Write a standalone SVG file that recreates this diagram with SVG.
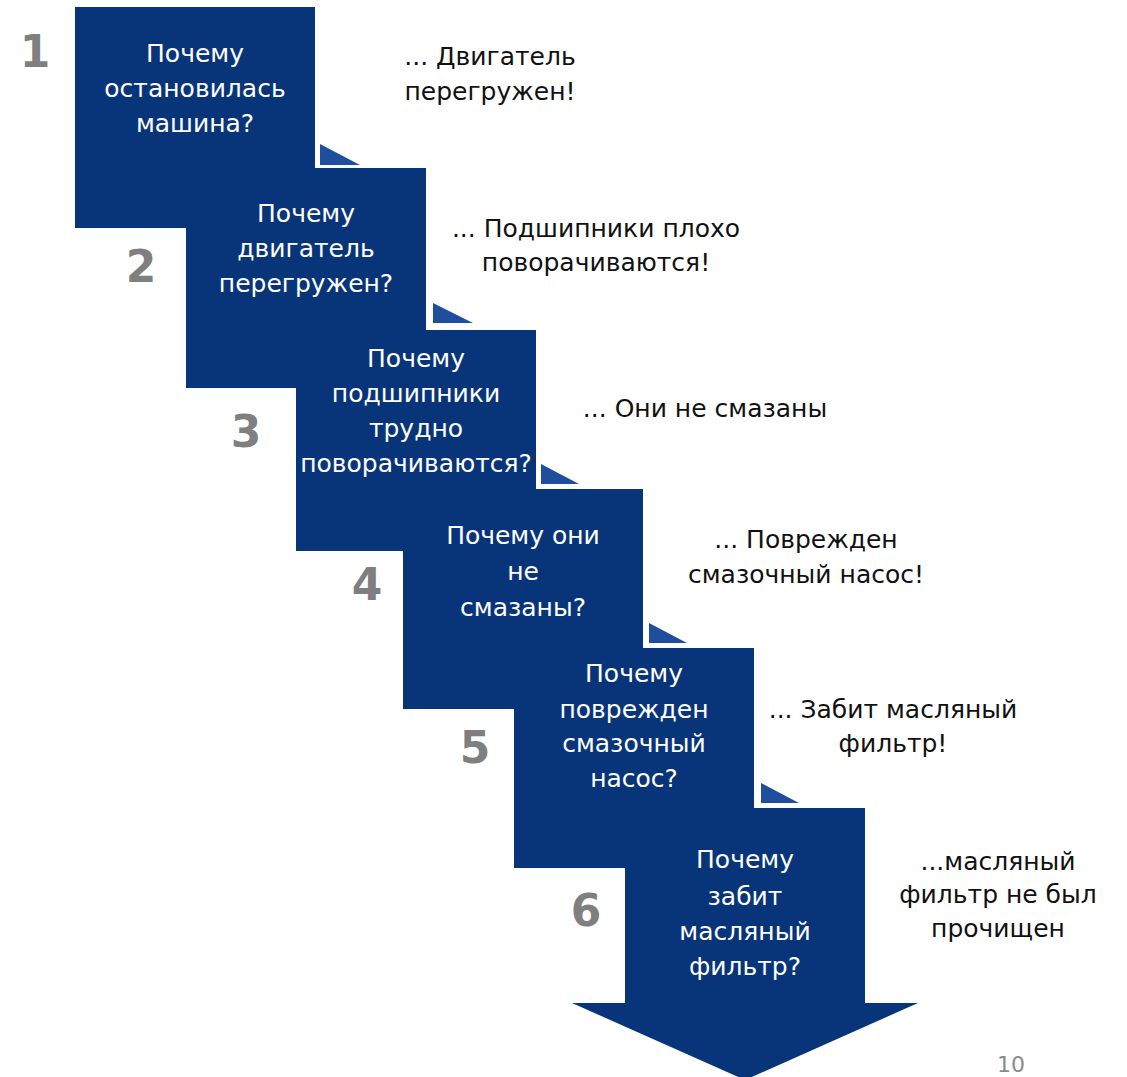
<svg xmlns="http://www.w3.org/2000/svg" width="1127" height="1077" viewBox="0 0 1127 1077">
<style>
.box{fill:#08357a}
.tri{fill:#1f4f9c}
.q{font-family:"DejaVu Sans","Noto Sans",sans-serif;font-size:25px;fill:#ffffff;text-anchor:middle}
.a{font-family:"DejaVu Sans","Noto Sans",sans-serif;font-size:25px;fill:#111111;text-anchor:middle}
.n{font-family:"DejaVu Sans","Noto Sans",sans-serif;font-size:44px;font-weight:bold;fill:#7f7f7f;text-anchor:middle}
.pg{font-family:"DejaVu Sans","Noto Sans",sans-serif;font-size:22px;fill:#8a8a8a}
</style>
<rect width="1127" height="1077" fill="#ffffff"/>
<g id="connectors">
<polygon class="tri" points="320,144 320,165 360,165"/>
<polygon class="tri" points="433,303 433,323 473,323"/>
<polygon class="tri" points="541,464 541,484 579,484"/>
<polygon class="tri" points="649,623 649,643 687,643"/>
<polygon class="tri" points="761,783 761,803 799,803"/>
</g>
<g id="step1">
<rect class="box" x="75" y="7" width="240" height="221"/>
<text class="q" x="195" y="62">Почему</text>
<text class="q" x="195" y="97">остановилась</text>
<text class="q" x="195" y="132">машина?</text>
<text class="n" x="35" y="67">1</text>
<text class="a" x="490" y="65">... Двигатель</text>
<text class="a" x="490" y="100">перегружен!</text>
</g>
<g id="step2">
<rect class="box" x="186" y="168" width="240" height="220"/>
<text class="q" x="306" y="222">Почему</text>
<text class="q" x="306" y="257">двигатель</text>
<text class="q" x="306" y="292">перегружен?</text>
<text class="n" x="141" y="282">2</text>
<text class="a" x="596" y="237">... Подшипники плохо</text>
<text class="a" x="596" y="271">поворачиваются!</text>
</g>
<g id="step3">
<rect class="box" x="296" y="330" width="240" height="221"/>
<text class="q" x="416" y="367">Почему</text>
<text class="q" x="416" y="402">подшипники</text>
<text class="q" x="416" y="437">трудно</text>
<text class="q" x="416" y="472">поворачиваются?</text>
<text class="n" x="246" y="447">3</text>
<text class="a" x="705" y="417">... Они не смазаны</text>
</g>
<g id="step4">
<rect class="box" x="403" y="489" width="240" height="220"/>
<text class="q" x="523" y="544">Почему они</text>
<text class="q" x="523" y="580">не</text>
<text class="q" x="523" y="616">смазаны?</text>
<text class="n" x="367" y="600">4</text>
<text class="a" x="806" y="548">... Поврежден</text>
<text class="a" x="806" y="583">смазочный насос!</text>
</g>
<g id="step5">
<rect class="box" x="514" y="648" width="240" height="220"/>
<text class="q" x="634" y="682">Почему</text>
<text class="q" x="634" y="718">поврежден</text>
<text class="q" x="634" y="752">смазочный</text>
<text class="q" x="634" y="787">насос?</text>
<text class="n" x="475" y="763">5</text>
<text class="a" x="893" y="718">... Забит масляный</text>
<text class="a" x="893" y="752">фильтр!</text>
</g>
<g id="step6">
<polygon class="box" points="625,808 865,808 865,1003 918,1003 745,1080 572,1003 625,1003"/>
<text class="q" x="745" y="868">Почему</text>
<text class="q" x="745" y="905">забит</text>
<text class="q" x="745" y="940">масляный</text>
<text class="q" x="745" y="975">фильтр?</text>
<text class="n" x="586" y="926">6</text>
<text class="a" x="998" y="870">...масляный</text>
<text class="a" x="998" y="903">фильтр не был</text>
<text class="a" x="998" y="937">прочищен</text>
</g>
<text class="pg" x="997" y="1072">10</text>
</svg>
